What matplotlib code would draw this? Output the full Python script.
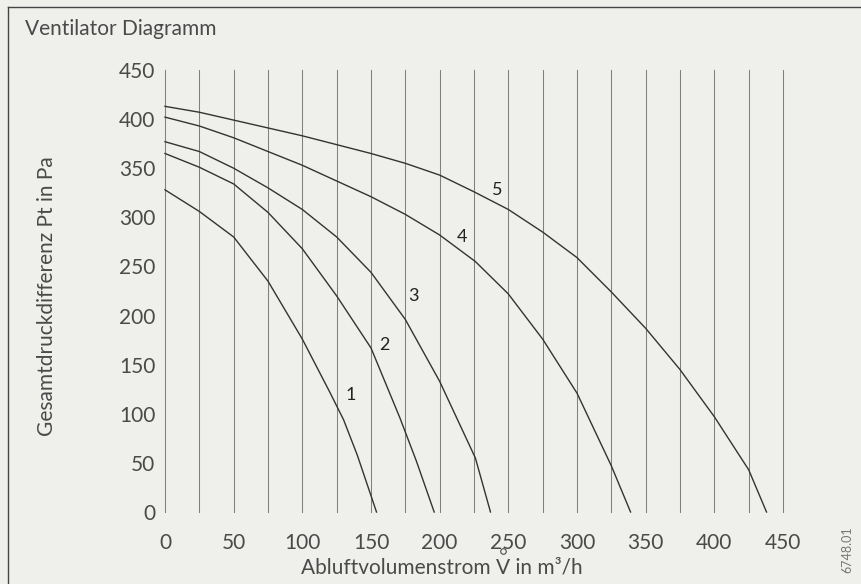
import matplotlib
matplotlib.use("Agg")
import matplotlib.pyplot as plt
from matplotlib.lines import Line2D

plt.rcParams['font.family'] = ['Lato', 'DejaVu Sans']

# ---- data ----
x_ticks = [0, 50, 100, 150, 200, 250, 300, 350, 400, 450]
y_ticks = [0, 50, 100, 150, 200, 250, 300, 350, 400, 450]
grid_x = list(range(0, 451, 25))

c1_x = [0, 25, 50, 75, 100, 120, 130, 140, 154]
c1_y = [328, 306, 280, 235, 176, 122, 94, 58, 0]

c2_x = [0, 25, 50, 75, 100, 125, 150, 171, 183, 196]
c2_y = [365, 351, 334, 305, 268, 220, 167, 96, 52, 0]

c3_x = [0, 25, 50, 75, 100, 125, 150, 175, 200, 226, 237]
c3_y = [377, 367, 350, 330, 308, 280, 244, 196, 133, 55, 0]

c4_x = [0, 25, 50, 75, 100, 125, 150, 175, 200, 226, 250, 275, 300, 325, 339]
c4_y = [402, 393, 381, 367, 353, 337, 321, 303, 282, 255, 222, 176, 121, 47, 0]

c5_x = [0, 25, 50, 75, 100, 125, 150, 175, 200, 225, 250, 275, 300, 325, 350,
        375, 400, 425, 438]
c5_y = [413, 407, 399, 391, 383, 374, 365, 355, 343, 326, 308, 285, 259, 224,
        187, 145, 97, 43, 0]

curve_labels = ['1', '2', '3', '4', '5']
label_pos_x = [135, 160, 181, 216, 242]
label_pos_y = [119, 170, 220, 280, 328]

bg = '#efefec'
ink = '#333333'
txt = '#4a4a4a'

fig = plt.figure(figsize=(8.61, 5.84), dpi=100, facecolor=bg)
W, H = 861, 584
ax = fig.add_axes([165 / W, (H - 512) / H, 618 / W, 442 / H])
ax.set_facecolor(bg)
ax.set_xlim(0, 450)
ax.set_ylim(0, 450)
for s in ax.spines.values():
    s.set_visible(False)

for gx in grid_x:
    ax.plot([gx, gx], [0, 450], color='#808080', lw=0.75, clip_on=False, zorder=1)

for xs, ys in [(c1_x, c1_y), (c2_x, c2_y), (c3_x, c3_y), (c4_x, c4_y), (c5_x, c5_y)]:
    ax.plot(xs, ys, color=ink, lw=1.0, clip_on=False, zorder=2,
            solid_joinstyle='round')

for t, lx, ly in zip(curve_labels, label_pos_x, label_pos_y):
    ax.text(lx, ly, t, fontsize=13, color='#222222', ha='center', va='center')

ax.set_xticks(x_ticks)
ax.set_yticks(y_ticks)
ax.set_xticklabels([str(v) for v in x_ticks])
ax.set_yticklabels([str(v) for v in y_ticks])
ax.tick_params(axis='both', length=0, labelsize=15, labelcolor=txt)
ax.tick_params(axis='x', pad=15)
ax.tick_params(axis='y', pad=7)

# x axis label with a small ring over the V, placed by measuring the text
xlabel = 'Abluftvolumenstrom V in m\u00b3/h'
renderer = fig.canvas.get_renderer()
tl = fig.text(442 / W, 1 - 567 / H, xlabel, ha='center', va='center',
              fontsize=15, color=txt)
full_bb = tl.get_window_extent(renderer)
tmp = fig.text(0, 0, 'Abluftvolumenstrom V', fontsize=15)
bb_pv = tmp.get_window_extent(renderer)
tmp2 = fig.text(0, 0, 'V', fontsize=15)
bb_v = tmp2.get_window_extent(renderer)
tmp.remove()
tmp2.remove()
v_center_px = full_bb.x0 + bb_pv.width - bb_v.width / 2
fig.add_artist(Line2D([v_center_px / W], [1 - 551 / H], transform=fig.transFigure,
                      marker='o', markersize=4, markerfacecolor='none',
                      markeredgecolor=txt, markeredgewidth=0.8, linestyle='none'))

fig.text(47 / W, 1 - 296 / H, 'Gesamtdruckdifferenz Pt in Pa', rotation=90,
         ha='center', va='center', fontsize=15, color=txt)
fig.text(25 / W, 1 - 29 / H, 'Ventilator Diagramm', ha='left', va='center',
         fontsize=15, color=txt)
fig.text(847 / W, 1 - 550 / H, '6748.01', rotation=90, ha='center', va='center',
         fontsize=9, color='#777777')

# frame of the scanned box
fig.add_artist(Line2D([8 / W, 8 / W], [0, 1 - 7 / H], transform=fig.transFigure,
                      color='#444444', lw=1.0))
fig.add_artist(Line2D([8 / W, 1], [1 - 7 / H, 1 - 7 / H], transform=fig.transFigure,
                      color='#444444', lw=1.0))

fig.savefig('out.png', dpi=100, facecolor=bg)
